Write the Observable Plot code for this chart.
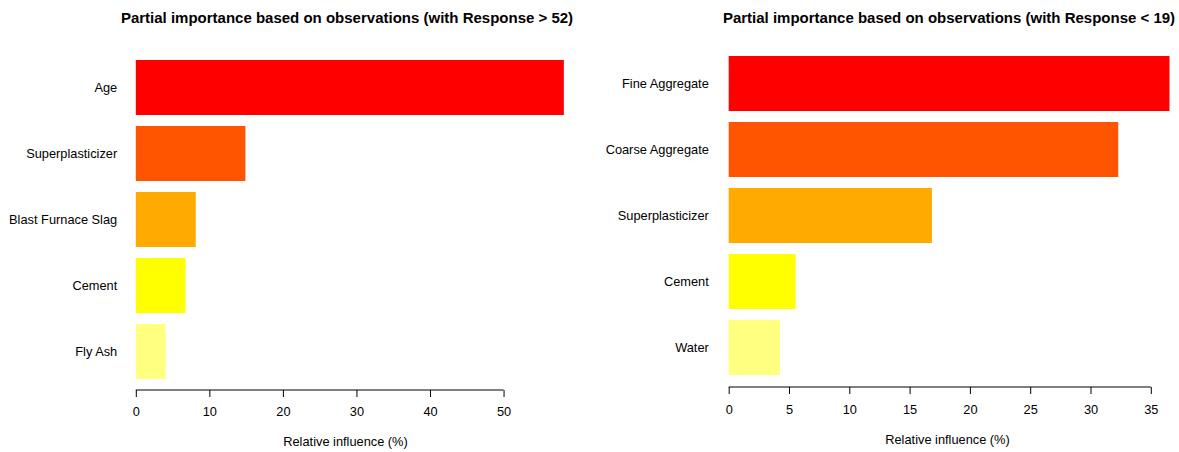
<!DOCTYPE html>
<html>
<head>
<meta charset="utf-8">
<script src="https://cdn.jsdelivr.net/npm/d3@7"></script>
<script src="https://cdn.jsdelivr.net/npm/@observablehq/plot@0.6"></script>
<style>
  html, body { margin: 0; padding: 0; background: #fff; }
  #wrap { position: relative; width: 1179px; height: 452px; overflow: hidden; }
  .panel { position: absolute; top: 0; }
</style>
</head>
<body>
<div id="wrap">
  <div id="left" class="panel" style="left:0px"></div>
  <div id="right" class="panel" style="left:590px"></div>
</div>
<script>
// ---- Data ----
const leftTitle = "Partial importance based on observations (with Response > 52)";
const leftCategories = ["Age", "Superplasticizer", "Blast Furnace Slag", "Cement", "Fly Ash"];
const leftValues = [58.2, 14.9, 8.15, 6.75, 4.05];
const leftTicks = [0, 10, 20, 30, 40, 50];

const rightTitle = "Partial importance based on observations (with Response < 19)";
const rightCategories = ["Fine Aggregate", "Coarse Aggregate", "Superplasticizer", "Cement", "Water"];
const rightValues = [36.55, 32.3, 16.85, 5.55, 4.25];
const rightTicks = [0, 5, 10, 15, 20, 25, 30, 35];

const xLabel = "Relative influence (%)";
const heatColors = ["#FF0000", "#FF5500", "#FFAA00", "#FFFF00", "#FFFF80"];

const FONT = "'Liberation Sans', Arial, Helvetica, sans-serif";

function panel(el, title, cats, vals, ticks, o) {
  const data = cats.map((c, i) => ({name: c, value: vals[i], color: heatColors[i]}));
  const H = 452;
  const plot = Plot.plot({
    width: o.width,
    height: H,
    marginLeft: o.ml,
    marginRight: o.mr,
    marginTop: 0,
    marginBottom: o.mb,
    style: {fontFamily: FONT, fontSize: "12.8px", color: "#000", background: "#fff", overflow: "visible"},
    x: {domain: [0, o.xmax], range: [o.x0, o.x0 + o.xmax * o.ppu]},
    y: {domain: cats, range: o.yRange, paddingInner: 1 / 6, paddingOuter: 0, round: false},
    color: {type: "identity"},
    marks: [
      Plot.barX(data, {x: "value", y: "name", fill: "color"}),
      Plot.axisY({tickSize: 0, tickPadding: o.tp, label: null, fontSize: 12.8}),
      Plot.axisX(ticks, {tickSize: 7, tickPadding: o.xtp, label: null, fontSize: 12.8}),
      Plot.text([title], {text: d => d, frameAnchor: "top", dy: 18, dx: o.tdx, lineAnchor: "middle", fontWeight: "bold", fontSize: 15}),
      Plot.text([xLabel], {text: d => d, frameAnchor: "bottom", dy: o.ldy, lineAnchor: "middle", fontSize: 12.8})
    ]
  });
  // axis line from first to last tick (R style)
  const xs = plot.scale("x");
  d3.select(plot).append("line")
    .attr("x1", xs.apply(ticks[0]))
    .attr("x2", xs.apply(ticks[ticks.length - 1]))
    .attr("y1", H - o.mb)
    .attr("y2", H - o.mb)
    .attr("stroke", "#000")
    .attr("stroke-width", 1);
  el.appendChild(plot);
}

panel(document.getElementById("left"), leftTitle, leftCategories, leftValues, leftTicks, {
  width: 590, ml: 120, mr: 20, mb: 62, x0: 135.8, ppu: 7.355, xmax: 60,
  yRange: [60, 379], tp: 3.3, xtp: 9.5, tdx: 1.5, ldy: 51
});

panel(document.getElementById("right"), rightTitle, rightCategories, rightValues, rightTicks, {
  width: 589, ml: 125, mr: 0, mb: 65, x0: 138.7, ppu: 12.06, xmax: 38,
  yRange: [56, 375], tp: 6.7, xtp: 10, tdx: 1.5, ldy: 52
});
</script>
</body>
</html>
